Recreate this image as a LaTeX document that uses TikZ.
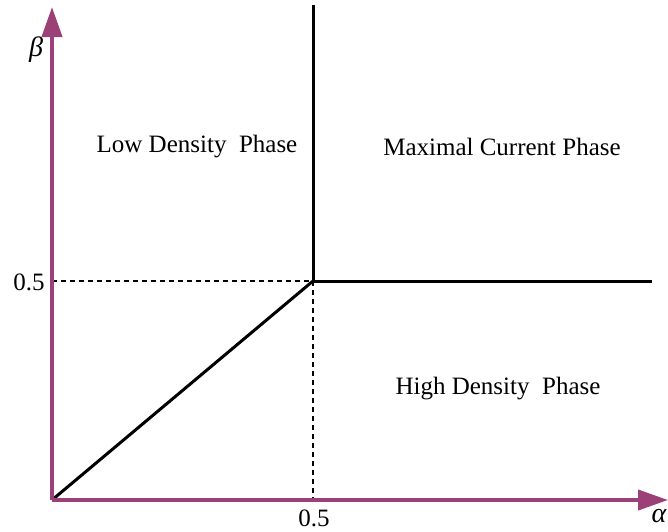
\documentclass[tikz,border=0pt]{standalone}
\usepackage{fontspec}
\setmainfont{Liberation Serif}
\usetikzlibrary{arrows.meta}
\definecolor{axiscol}{RGB}{156,64,120}
\tikzset{
  axis/.style={line width=2pt,axiscol,-{Triangle[length=15pt,width=10pt]}},
  border/.style={line width=1.5pt,black},
  guide/.style={line width=1pt,dash pattern=on 2.5pt off 2pt},
  phase/.style={font=\fontsize{12.5}{15}\selectfont},
  ticklab/.style={font=\fontsize{12.5}{15}\selectfont,inner sep=0pt},
  greek/.style={font=\fontsize{14}{16}\selectfont\itshape,inner sep=0pt}
}
\begin{document}
\begin{tikzpicture}[x=0.5pt,y=-0.5pt]
      \useasboundingbox (0,0) rectangle (668,531);
      \coordinate (O) at (52,500);
      \coordinate (Ytip) at (52,7);
      \coordinate (Xtip) at (668,500);
      \coordinate (C) at (313,281);
      \coordinate (T) at (313,5);
      \coordinate (R) at (652,281);
      \coordinate (L) at (52,281);
      \coordinate (B) at (313,500);

      \node[greek] (beta) at (36,50){β};
      \node[greek] (alpha) at (659,516){α};
      \node[ticklab] (yhalf) at (29,282){0.5};
      \node[ticklab] (xhalf) at (314,518){0.5};

      \node[phase] (LD) at (197,147){Low Density~\ Phase};
      \node[phase] (MC) at (502,147){Maximal Current Phase};
      \node[phase] (HD) at (498,389){High Density~\ Phase};

      \draw[guide] (L) -- (C);
      \draw[guide] (C) -- (B);
      \draw[border] (O) -- (C);
      \draw[border] (C) -- (T);
      \draw[border] (C) -- (R);
      \draw[axis] (O) -- (Ytip);
      \draw[axis] (O) -- (Xtip);
    \end{tikzpicture}
\end{document}
